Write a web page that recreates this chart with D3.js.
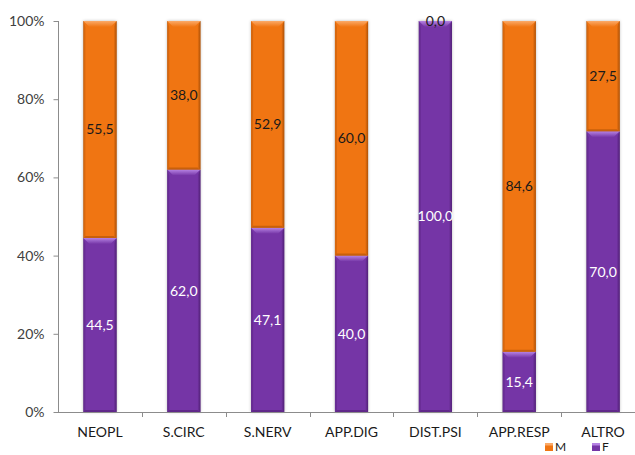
<!DOCTYPE html>
<html><head><meta charset="utf-8">
<script src="https://cdn.jsdelivr.net/npm/d3@7"></script>
<style>body{margin:0;background:#fff}svg{display:block}</style>
</head><body>
<svg id="c" width="635" height="455"></svg>
<script>
const categories = ["NEOPL","S.CIRC","S.NERV","APP.DIG","DIST.PSI","APP.RESP","ALTRO"];
const valuesF = [44.5, 62.0, 47.1, 40.0, 100.0, 15.4, 70.0];
const valuesM = [55.5, 38.0, 52.9, 60.0, 0.0, 84.6, 27.5];
const seriesKeys = ["F","M"];
const yTicks = [0, 0.2, 0.4, 0.6, 0.8, 1];

(function(){
const colors = {
  F: {main:"#7535A6", light:"#B683E3", dark:"#4E1E72", label:"#ffffff"},
  M: {main:"#F07512", light:"#FBAA68", dark:"#A84E06", label:"#1a1a1a"}
};

const svg = d3.select("#c");
const W = 635;
const pLeft = 58, pRight = 645, pTop = 21, pBottom = 412;

const rows = categories.map((c,i)=>({cat:c, F:valuesF[i], M:valuesM[i]}));
const stacked = d3.stack().keys(seriesKeys).offset(d3.stackOffsetExpand)(rows);

const x = d3.scaleBand().domain(categories).range([pLeft, pRight]).padding(0);
const y = d3.scaleLinear().domain([0,1]).range([pBottom, pTop]);
const barW = x.bandwidth()*0.395;

const defs = svg.append("defs");
const f = defs.append("filter").attr("id","sh").attr("x","-30%").attr("y","-10%").attr("width","160%").attr("height","120%");
f.append("feDropShadow").attr("dx",0).attr("dy",0).attr("stdDeviation",1.6).attr("flood-color","#000").attr("flood-opacity",0.28);

seriesKeys.forEach(k=>{
  const g = defs.append("linearGradient").attr("id","top"+k).attr("x1",0).attr("y1",0).attr("x2",0).attr("y2",1);
  g.append("stop").attr("offset","0%").attr("stop-color",colors[k].light);
  g.append("stop").attr("offset","100%").attr("stop-color",colors[k].main);
  const h = defs.append("linearGradient").attr("id","side"+k).attr("x1",0).attr("y1",0).attr("x2",1).attr("y2",0);
  h.append("stop").attr("offset","0%").attr("stop-color",colors[k].main);
  h.append("stop").attr("offset","100%").attr("stop-color",colors[k].dark);
});

const shadowG = svg.append("g").attr("filter","url(#sh)");
rows.forEach((r,i)=>{
  const xc = x(r.cat)+x.bandwidth()/2;
  shadowG.append("rect").attr("x",xc-barW/2).attr("y",y(1)).attr("width",barW).attr("height",y(0)-y(1)).attr("fill","#888");
});

const barsG = svg.append("g");
stacked.forEach(s=>{
  const k = s.key;
  s.forEach((d,i)=>{
    const xc = x(categories[i])+x.bandwidth()/2;
    const x0 = xc-barW/2, x1 = xc+barW/2;
    const yt = y(d[1]), yb = y(d[0]);
    const h = yb-yt;
    const g = barsG.append("g");
    const b = Math.min(6, h/2);
    g.append("rect").attr("x",x0).attr("y",yt).attr("width",barW).attr("height",Math.max(0,h)).attr("fill",colors[k].main);
    if (h>0.5){
      g.append("polygon").attr("points",[[x1-3,yt+b],[x1,yt],[x1,yb],[x1-3,yb-2]].join(" ")).attr("fill","url(#side"+k+")").attr("opacity",0.9);
      g.append("polygon").attr("points",[[x0,yt],[x0+2,yt+b],[x0+2,yb-2],[x0,yb]].join(" ")).attr("fill",colors[k].dark).attr("opacity",0.35);
      g.append("polygon").attr("points",[[x0,yb],[x0+2,yb-2],[x1-3,yb-2],[x1,yb]].join(" ")).attr("fill",colors[k].dark).attr("opacity",0.55);
      g.append("polygon").attr("points",[[x0,yt],[x1,yt],[x1-b,yt+b],[x0+b,yt+b]].join(" ")).attr("fill","url(#top"+k+")");
    }
  });
});

svg.append("line").attr("x1",pLeft).attr("x2",W).attr("y1",pBottom+0.5).attr("y2",pBottom+0.5).attr("stroke","#8c8c8c").attr("stroke-width",1);
svg.append("line").attr("x1",pLeft+0.5).attr("x2",pLeft+0.5).attr("y1",pTop).attr("y2",pBottom).attr("stroke","#8c8c8c").attr("stroke-width",1);

const yAxis = svg.append("g").attr("transform",`translate(${pLeft+0.5},0)`)
  .call(d3.axisLeft(y).tickValues(yTicks).tickFormat(d3.format(".0%")).tickSize(5).tickPadding(9));
yAxis.select(".domain").remove();
yAxis.selectAll(".tick line").attr("stroke","#8c8c8c");
yAxis.selectAll("text").attr("font-family","Lato, 'Open Sans', sans-serif").attr("font-size",14).attr("fill","#404040");

const xAxis = svg.append("g").attr("transform",`translate(0,${pBottom+0.5})`)
  .call(d3.axisBottom(x).tickSize(0).tickPadding(15));
xAxis.select(".domain").remove();
xAxis.selectAll("text").attr("font-family","Lato, 'Open Sans', sans-serif").attr("font-size",14).attr("fill","#1a1a1a");
categories.slice(1).forEach(c=>{
  svg.append("line").attr("x1",Math.round(x(c))+0.5).attr("x2",Math.round(x(c))+0.5).attr("y1",pBottom).attr("y2",pBottom+5).attr("stroke","#8c8c8c");
});

const fmt = v => v.toFixed(1).replace(".",",");
stacked.forEach(s=>{
  const k = s.key;
  s.forEach((d,i)=>{
    const xc = x(categories[i])+x.bandwidth()/2;
    const ym = (y(d[0])+y(d[1]))/2;
    svg.append("text").attr("x",xc).attr("y",ym).attr("dy","0.35em").attr("text-anchor","middle")
      .attr("font-family","Lato, 'Open Sans', sans-serif").attr("font-size",14)
      .attr("fill",colors[k].label).text(fmt(d.data[k]));
  });
});

const legendItems = [{k:"M",x:545},{k:"F",x:592}];
legendItems.forEach(it=>{
  svg.append("rect").attr("x",it.x).attr("y",443).attr("width",8).attr("height",8).attr("fill",colors[it.k].main);
  svg.append("rect").attr("x",it.x).attr("y",443).attr("width",8).attr("height",2.5).attr("fill",colors[it.k].light);
  svg.append("text").attr("x",it.x+10).attr("y",451).attr("font-family","Lato, 'Open Sans', sans-serif").attr("font-size",12).attr("fill","#1a1a1a").text(it.k);
});
})();
</script>
</body></html>
